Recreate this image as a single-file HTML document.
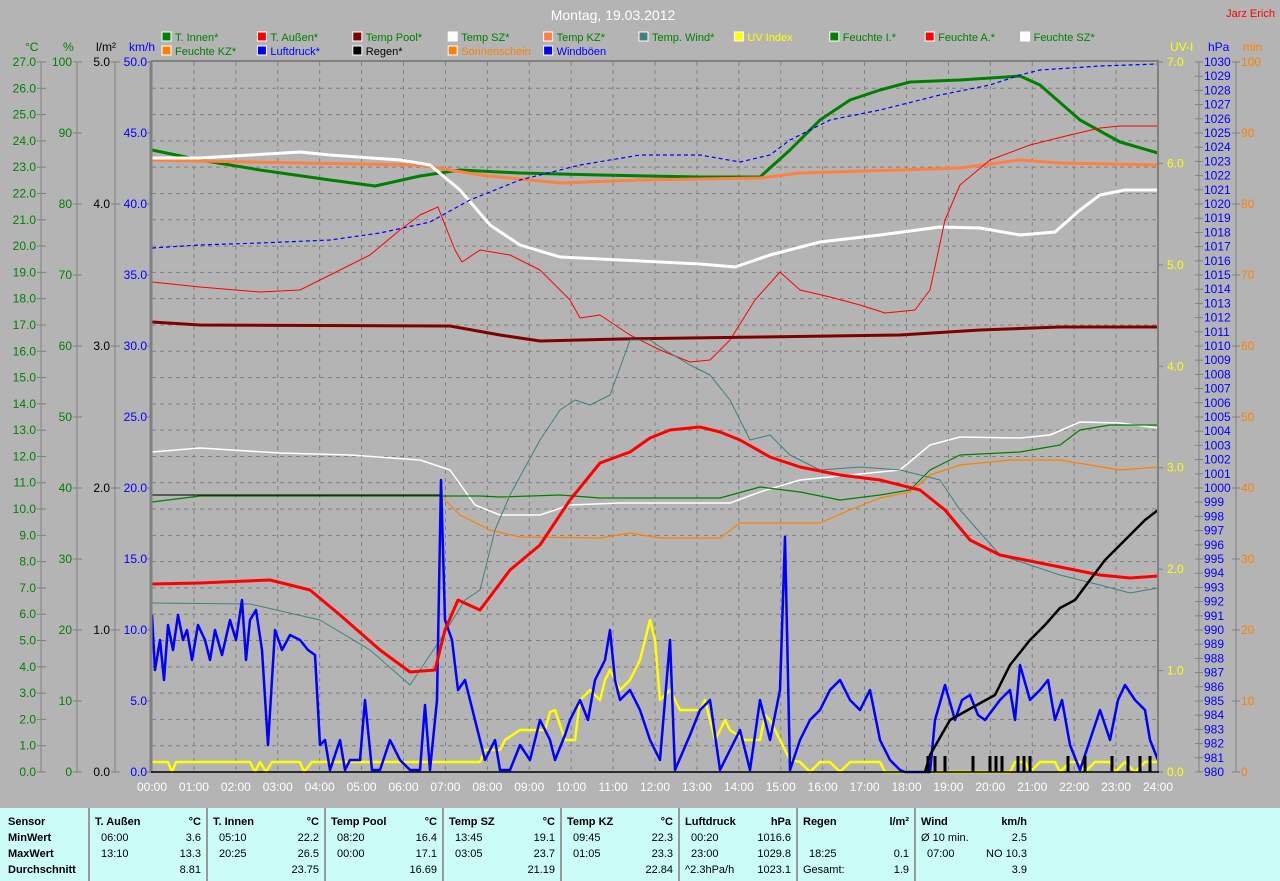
<!DOCTYPE html>
<html><head><meta charset="utf-8"><style>
html,body{margin:0;padding:0;background:#b4b4b4;}
svg{display:block;font-family:"Liberation Sans",sans-serif;}
.tb{position:absolute;left:0;top:808px;width:1280px;height:73px;background:#ccfcf8;font-family:"Liberation Sans",sans-serif;font-size:11px;color:#000;}
.tb div{position:absolute;white-space:nowrap;}
.b{font-weight:bold;}
.sep{position:absolute;top:0;height:73px;width:2px;background:#999;}
</style></head><body>
<svg id="s" width="1280" height="808" viewBox="0 0 1280 808" xmlns="http://www.w3.org/2000/svg">
<rect width="1280" height="808" fill="#b4b4b4"/>
<g id="grid"></g>
<text x="613" y="20" fill="#fff" font-size="14" text-anchor="middle">Montag, 19.03.2012</text>
<text x="1275" y="17" fill="#ff0000" font-size="11" text-anchor="end">Jarz Erich</text>
<g id="leg" font-size="11"></g>
<g id="axes" font-size="12"></g>
<g fill="none" stroke-linejoin="round">
<polyline id="p_g1" stroke="#008000" stroke-width="3"/>
<polyline id="p_o1" stroke="#ff8040" stroke-width="3"/>
<polyline id="p_w1" stroke="#ffffff" stroke-width="3"/>
<polyline id="p_bl" stroke="#0000ff" stroke-width="1.2" stroke-dasharray="4,3"/>
<polyline id="p_r1" stroke="#ff0000" stroke-width="1"/>
<polyline id="p_dr" stroke="#800000" stroke-width="3"/>
<polyline id="p_w2" stroke="#ffffff" stroke-width="1.5"/>
<polyline id="p_g2" stroke="#008000" stroke-width="1.2"/>
<polyline id="p_o2" stroke="#ff8000" stroke-width="1.2"/>
<line x1="152" y1="495" x2="440" y2="495" stroke="#000" stroke-width="1"/>
<polyline id="p_tl" stroke="#408080" stroke-width="1"/>
<polyline id="p_y" stroke="#ffff00" stroke-width="2.5"/>
<polyline id="p_wb" stroke="#0000ff" stroke-width="2.5"/>
<polyline id="p_r2" stroke="#ff0000" stroke-width="3"/>
<polyline id="p_k" stroke="#000" stroke-width="2.5"/>
<g id="rain" stroke="#000" stroke-width="3"></g>
</g>
<line x1="151" y1="61" x2="151" y2="773" stroke="#808080" stroke-width="3"/>
<line x1="151" y1="61" x2="1159" y2="61" stroke="#808080" stroke-width="2"/>
<line x1="1158" y1="61" x2="1158" y2="773" stroke="#808080" stroke-width="2"/>
<line x1="151" y1="772" x2="1159" y2="772" stroke="#000" stroke-width="1.5"/>
</svg>
<div class="tb">
<div class="sep" style="left:88px"></div><div class="sep" style="left:206px"></div><div class="sep" style="left:324px"></div><div class="sep" style="left:442px"></div><div class="sep" style="left:560px"></div><div class="sep" style="left:678px"></div><div class="sep" style="left:796px"></div><div class="sep" style="left:914px"></div>
<div class="b" style="left:8px;top:8px">Sensor</div>
<div class="b" style="left:8px;top:24px">MinWert</div>
<div class="b" style="left:8px;top:40px">MaxWert</div>
<div class="b" style="left:8px;top:56px">Durchschnitt</div>
<div id="cols"></div>
</div>
<script>
const NS="http://www.w3.org/2000/svg";
function el(p,t,a,txt){const e=document.createElementNS(NS,t);for(const k in a)e.setAttribute(k,a[k]);if(txt!==undefined)e.textContent=txt;p.appendChild(e);return e;}
const g=document.getElementById('grid'),ax=document.getElementById('axes'),lg=document.getElementById('leg');
const X=h=>152+h*(1006/24), T=0,B=772,H=710;
for(let h=1;h<24;h++)el(g,'line',{x1:X(h),y1:62,x2:X(h),y2:772,stroke:'#808080','stroke-dasharray':'4,4'});
for(let i=1;i<27;i++){const y=62+i*H/27;el(g,'line',{x1:152,y1:y,x2:1158,y2:y,stroke:'#808080','stroke-dasharray':'4,4'});}
for(let h=0;h<=24;h++)el(ax,'text',{x:X(h),y:791,fill:'#fff','text-anchor':'middle'},(h<10?'0':'')+h+':00');
function axis(lx,tx1,tx2,n,fmt,col,anchorEnd,labx){
 el(ax,'line',{x1:lx,y1:62,x2:lx,y2:772,stroke:'#808080'});
 for(let i=0;i<=n;i++){const y=772-i*H/n;el(ax,'line',{x1:tx1,y1:y,x2:tx2,y2:y,stroke:'#808080'});
 el(ax,'text',{x:labx,y:y+4,fill:col,'text-anchor':anchorEnd?'end':'start'},fmt(i));}
}
axis(41,37,46,27,i=>i.toFixed(1),'#008000',1,36);
axis(77,73,82,10,i=>String(i*10),'#008000',1,72);
axis(115,111,120,5,i=>i.toFixed(1),'#000',1,110);
axis(151,147,151,10,i=>(i*5).toFixed(1),'#0000ff',1,147);
axis(1158,1158,1163,7,i=>i.toFixed(1),'#ffff00',0,1167);
axis(1199,1195,1203,50,i=>String(980+i),'#0000ff',0,1204);
axis(1236,1232,1240,10,i=>String(i*10),'#ff8000',0,1241);
[['°C',25,'#008000'],['%',63,'#008000'],['l/m²',96,'#000'],['km/h',129,'#0000ff'],['UV-I',1170,'#ffff00'],['hPa',1208,'#0000ff'],['min',1243,'#ff8000']].forEach(a=>el(ax,'text',{x:a[1],y:51,fill:a[2]},a[0]));
const L1=[['T. Innen*','#008000','#008000'],['T. Außen*','#ff0000','#008000'],['Temp Pool*','#800000','#008000'],['Temp SZ*','#ffffff','#008000'],['Temp KZ*','#ff8040','#008000'],['Temp. Wind*','#408080','#008000'],['UV Index','#ffff00','#ffff00'],['Feuchte I.*','#008000','#008000'],['Feuchte A.*','#ff0000','#008000'],['Feuchte SZ*','#ffffff','#008000']];
const L2=[['Feuchte KZ*','#ff8000','#008000'],['Luftdruck*','#0000ff','#0000ff'],['Regen*','#000','#000'],['Sonnenschein','#ff8000','#ff8000'],['Windböen','#0000ff','#0000ff']];
[[L1,32],[L2,46]].forEach(([L,y])=>L.forEach((e,i)=>{const x=162+i*95.4;el(lg,'rect',{x:x,y:y,width:9,height:9,fill:e[1],stroke:'#fff'});el(lg,'text',{x:x+13,y:y+9,fill:e[2]},e[0]);}));
const D={
g1:[152,150,200,160,260,170,330,180,375,186,420,176,460,170,520,173,600,175,700,177,760,177,790,150,820,120,850,100,880,90,910,82,960,80,1020,76,1040,85,1080,120,1120,142,1158,153],
o1:[152,160,300,163,420,165,480,175,560,183,640,180,760,178,800,173,900,170,960,168,1020,160,1060,163,1158,165],
w1:[152,158,200,158,250,155,300,152,330,155,400,160,430,165,460,190,490,225,520,245,560,257,620,260,700,264,735,267,770,255,820,242,880,235,940,227,980,228,1020,235,1055,232,1080,210,1100,195,1125,190,1158,190],
bl:[152,248,200,245,260,243,330,240,380,233,430,222,470,200,520,180,580,165,640,155,700,155,740,162,770,155,790,140,830,120,880,110,940,95,990,85,1020,75,1040,70,1100,66,1158,64],
r1:[152,282,200,287,260,292,300,290,330,275,370,255,400,230,420,215,438,207,445,225,455,250,462,262,480,250,510,255,540,270,570,300,580,318,600,315,630,335,660,350,690,362,710,360,730,340,755,300,780,272,800,290,830,297,860,305,885,313,915,310,930,290,945,220,960,185,990,160,1030,145,1070,135,1100,128,1120,126,1158,126],
dr:[152,322,200,325,450,326,500,335,540,341,620,339,760,337,900,335,980,330,1060,327,1158,327],
tl:[152,603,250,604,320,620,370,650,410,685,440,640,465,600,480,590,495,530,510,495,540,440,560,410,575,400,590,405,610,395,630,340,650,340,665,350,690,365,710,375,730,400,750,440,770,435,790,455,820,470,860,467,900,470,940,480,960,510,1000,555,1060,575,1100,585,1130,593,1158,588],
r2:[152,584,200,583,270,580,310,590,340,615,380,650,410,672,435,670,445,630,458,600,480,610,495,590,510,570,540,545,570,500,600,463,630,452,650,438,670,430,700,427,720,432,740,440,770,457,800,467,840,475,880,480,920,490,945,510,970,540,1000,555,1050,565,1100,575,1130,578,1158,576],
w2:[152,452,200,448,280,453,350,455,420,460,450,470,475,505,500,515,540,515,570,505,620,503,730,503,760,492,800,480,850,475,900,470,930,445,960,437,1020,438,1050,435,1080,422,1120,423,1158,428],
g2:[152,502,200,496,400,496,480,496,500,497,560,495,600,498,720,498,760,487,800,492,840,500,880,495,910,490,930,470,960,455,1020,452,1060,445,1080,430,1110,425,1158,425],
o2:[440,495,460,515,490,530,520,537,600,538,630,533,660,538,720,538,740,523,820,523,850,510,880,498,910,492,930,475,960,465,1010,460,1060,460,1090,465,1120,470,1158,467],
k:[925,772,930,755,950,720,975,706,995,695,1010,665,1030,640,1045,625,1060,608,1075,600,1090,580,1105,560,1125,540,1145,520,1158,510],
wb:[152,615,155,670,160,640,164,680,168,625,173,650,178,615,183,640,187,630,192,660,198,625,205,640,210,660,215,630,222,655,230,620,236,640,242,600,246,660,250,620,256,610,262,650,268,745,275,630,282,650,290,635,300,640,308,650,315,655,320,745,325,740,330,770,340,740,345,770,350,760,360,760,365,700,372,770,380,770,390,740,400,760,410,770,420,770,425,705,430,770,437,700,441,480,445,620,452,640,458,690,465,680,475,720,485,760,495,740,500,770,510,770,520,745,530,760,540,720,550,740,555,760,565,735,570,720,580,700,588,720,595,680,605,660,610,630,615,680,620,700,630,690,640,710,650,740,660,760,670,640,675,770,690,735,700,710,710,700,720,770,730,750,740,730,750,770,760,700,770,740,780,690,785,537,790,770,800,740,810,720,820,710,830,690,840,680,850,700,860,710,870,690,880,740,890,760,900,770,905,772,930,772,935,720,945,685,955,720,962,700,970,695,978,715,985,720,1000,700,1010,690,1015,720,1020,665,1030,700,1040,690,1048,680,1055,720,1062,700,1070,745,1080,770,1090,740,1100,710,1110,740,1118,700,1125,685,1135,700,1145,710,1150,740,1158,760],
y:[152,762,168,762,172,772,176,762,250,762,255,772,260,762,266,772,272,762,300,762,304,772,312,762,480,762,485,750,500,750,505,740,520,730,545,730,550,712,555,710,560,725,565,740,575,740,580,700,590,690,600,700,605,680,610,670,620,690,630,680,640,660,645,640,650,620,655,640,660,700,670,690,680,710,700,710,705,700,715,740,725,720,730,730,745,740,760,740,765,715,770,720,780,740,790,760,800,762,810,772,820,762,830,762,840,772,850,762,880,762,885,772,1010,772,1015,762,1025,762,1030,772,1040,762,1055,762,1060,772,1070,762,1080,762,1085,772,1095,762,1110,762,1115,772,1125,762,1135,772,1145,762,1158,762]
};
for(const k in D){const a=D[k];let s='';for(let i=0;i<a.length;i+=2)s+=a[i]+','+a[i+1]+' ';document.getElementById('p_'+k).setAttribute('points',s);}
const rg=document.getElementById('rain');[928,935,945,973,990,996,1002,1018,1024,1030,1068,1085,1112,1128,1140,1150].forEach(x=>el(rg,'line',{x1:x,y1:756,x2:x,y2:772}));
const cols=document.getElementById('cols');
const C=[
['T. Außen','°C',['06:00','3.6'],['13:10','13.3'],['','8.81']],
['T. Innen','°C',['05:10','22.2'],['20:25','26.5'],['','23.75']],
['Temp Pool','°C',['08:20','16.4'],['00:00','17.1'],['','16.69']],
['Temp SZ','°C',['13:45','19.1'],['03:05','23.7'],['','21.19']],
['Temp KZ','°C',['09:45','22.3'],['01:05','23.3'],['','22.84']],
['Luftdruck','hPa',['00:20','1016.6'],['23:00','1029.8'],['^2.3hPa/h','1023.1']],
['Regen','l/m²',['',''],['18:25','0.1'],['Gesamt:','1.9']],
['Wind','km/h',['Ø 10 min.','2.5'],['07:00','NO 10.3'],['','3.9']]];
C.forEach((c,i)=>{const l=95+i*118,r=l+106;let h='';
h+=`<div class="b" style="left:${l}px;top:8px">${c[0]}</div><div class="b" style="left:${r-40}px;width:40px;text-align:right;top:8px">${c[1]}</div>`;
[2,3,4].forEach((j,k)=>{const t=24+k*16;h+=`<div style="left:${l+(c[j][0].startsWith('^')||c[j][0].startsWith('G')||c[j][0].startsWith('Ø')?0:6)}px;top:${t}px">${c[j][0]}</div><div style="left:${r-60}px;width:60px;text-align:right;top:${t}px">${c[j][1]}</div>`;});
cols.insertAdjacentHTML('beforeend',h);});
</script>
</body></html>
